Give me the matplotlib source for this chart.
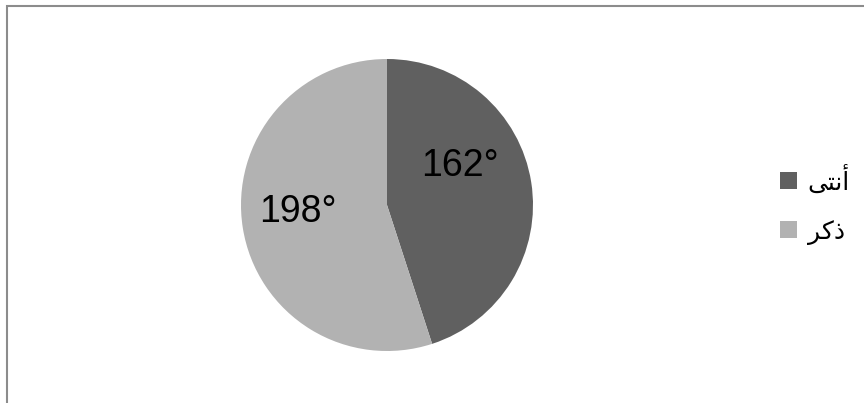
import matplotlib
matplotlib.use("Agg")
import matplotlib.pyplot as plt
from matplotlib.patches import Rectangle

# gender split, in degrees of the circle
categories = ["أنثى", "ذكر"]
# same words in Arabic presentation forms, laid out left-to-right for drawing
legend_labels = ["\uFEF0\uFE98\uFEE7\uFE83", "\uFEAE\uFEDB\uFEAB"]
degrees = [162, 198]
colors = ["#606060", "#b2b2b2"]

plt.rcParams["font.family"] = ["Liberation Sans", "DejaVu Sans"]

W, H = 864, 403
fig = plt.figure(figsize=(W / 100, H / 100), dpi=100)
fig.patch.set_facecolor("white")

# frame: only the top and left edges fall inside the image
fig.add_artist(Rectangle((6.5 / W, -0.1), 1.2, (H - 5.5) / H + 0.1,
                         transform=fig.transFigure, fill=False,
                         edgecolor="#8c8c8c", linewidth=1.5))

cx, cy, r = 387, 205, 146
ax = fig.add_axes([(cx - r) / W, (H - cy - r) / H, 2 * r / W, 2 * r / H])
wedges, _ = ax.pie(degrees, colors=colors, startangle=90, counterclock=False,
                   radius=1, wedgeprops=dict(linewidth=0))
ax.set_xlim(-1, 1)
ax.set_ylim(-1, 1)
ax.set_aspect("equal")
ax.axis("off")

label_pos = [(0.50, 0.27), (-0.61, -0.05)]
for val, (x, y) in zip(degrees, label_pos):
    ax.text(x, y, f"{val}°", ha="center", va="center", fontsize=27, color="black")

fig.legend(wedges, legend_labels, loc="center left",
           bbox_to_anchor=(777 / W, 1 - 205 / H), frameon=False,
           prop=dict(family=["DejaVu Sans"], size=18),
           handlelength=0.68, handleheight=0.68, handletextpad=0.45,
           labelspacing=1.0, borderpad=0.1, borderaxespad=0)

fig.savefig("out.png", dpi=100)
